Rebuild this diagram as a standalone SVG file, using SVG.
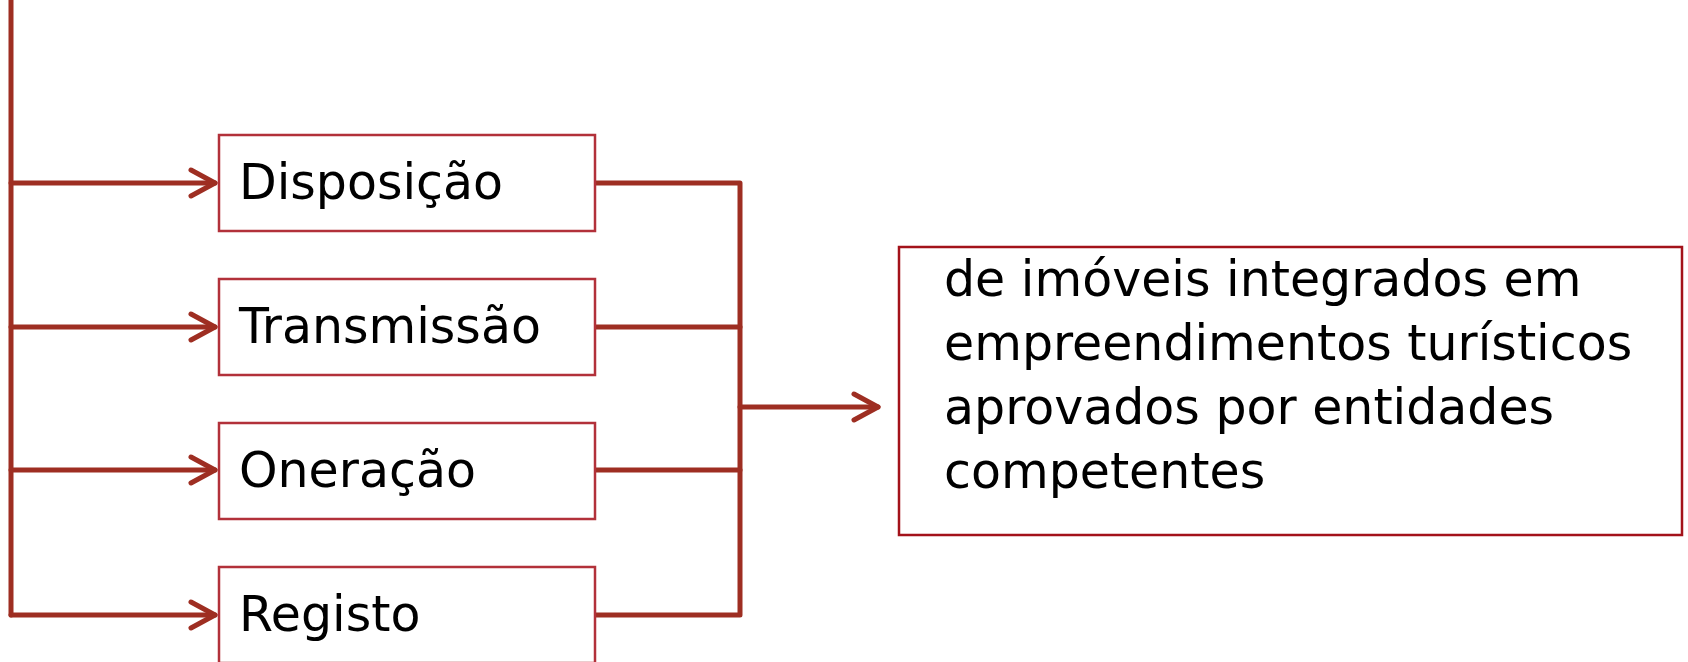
<svg xmlns="http://www.w3.org/2000/svg" width="1688" height="662" viewBox="0 0 1688 662">
<style>
.conn{fill:none;stroke:#9E2E22;stroke-width:5;stroke-linecap:round;stroke-linejoin:round}
.box{fill:#fff;stroke:#B2313A;stroke-width:2.5}
.out{fill:#fff;stroke:#A3121A;stroke-width:2.5}
.t{font-family:"DejaVu Sans","Liberation Sans",sans-serif;font-size:49px;fill:#000}
</style>
<defs>
<marker id="arr" markerUnits="userSpaceOnUse" markerWidth="40" markerHeight="40" viewBox="-30 -20 40 40" refX="0" refY="0" orient="auto" overflow="visible">
<path d="M-24,-13 L0,0 L-24,13" fill="none" stroke="#9E2E22" stroke-width="5" stroke-linecap="round" stroke-linejoin="round"/>
</marker>
</defs>
<g id="connectors">
<path class="conn" d="M11,0 L11,615"/>
<path class="conn" d="M11,183 L215,183" marker-end="url(#arr)"/>
<path class="conn" d="M11,327 L215,327" marker-end="url(#arr)"/>
<path class="conn" d="M11,470 L215,470" marker-end="url(#arr)"/>
<path class="conn" d="M11,615 L215,615" marker-end="url(#arr)"/>
<path class="conn" d="M596,183 L740,183 L740,615 L596,615"/>
<path class="conn" d="M596,327 L740,327"/>
<path class="conn" d="M596,470 L740,470"/>
<path class="conn" d="M740,407 L878,407" marker-end="url(#arr)"/>
</g>
<g id="node-disposicao">
<rect class="box" x="219" y="135" width="376" height="96"/>
<text class="t" x="239" y="199">Disposição</text>
</g>
<g id="node-transmissao">
<rect class="box" x="219" y="279" width="376" height="96"/>
<text class="t" x="239" y="343">Transmissão</text>
</g>
<g id="node-oneracao">
<rect class="box" x="219" y="423" width="376" height="96"/>
<text class="t" x="239" y="487">Oneração</text>
</g>
<g id="node-registo">
<rect class="box" x="219" y="567" width="376" height="96"/>
<text class="t" x="239" y="631">Registo</text>
</g>
<g id="node-imoveis">
<rect class="out" x="899" y="247" width="783" height="288"/>
<text class="t" x="944" y="296">de imóveis integrados em</text>
<text class="t" x="944" y="360">empreendimentos turísticos</text>
<text class="t" x="944" y="424">aprovados por entidades</text>
<text class="t" x="944" y="488">competentes</text>
</g>
</svg>
